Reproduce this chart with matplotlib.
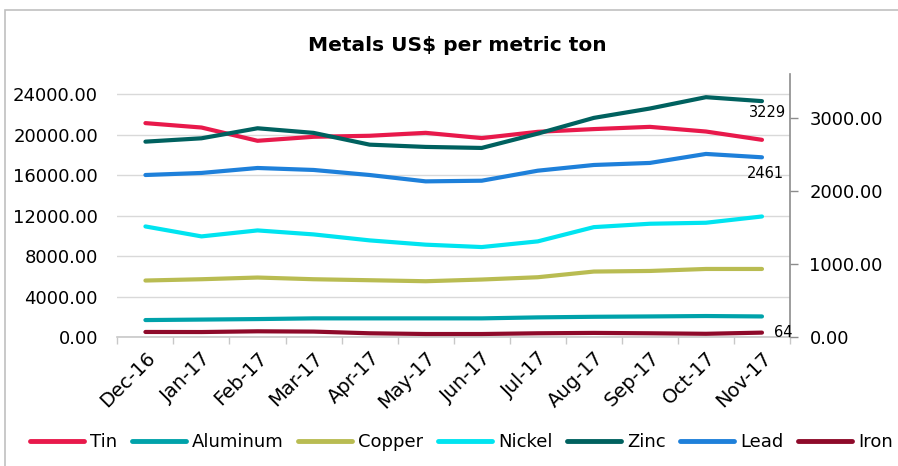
import matplotlib
matplotlib.use("Agg")
import matplotlib.pyplot as plt
import numpy as np
from matplotlib.patches import Rectangle

plt.rcParams['font.family'] = ['DejaVu Sans']

months = ["Dec-16", "Jan-17", "Feb-17", "Mar-17", "Apr-17", "May-17",
          "Jun-17", "Jul-17", "Aug-17", "Sep-17", "Oct-17", "Nov-17"]

# Left axis series
tin = [21150, 20715, 19405, 19800, 19900, 20190, 19670, 20290, 20560, 20780, 20320, 19500]
aluminum = [1702, 1750, 1800, 1869, 1869, 1869, 1869, 1967, 2026, 2060, 2100, 2060]
copper = [5606, 5734, 5902, 5734, 5636, 5537, 5705, 5931, 6492, 6551, 6748, 6748]
nickel = [10947, 9964, 10554, 10160, 9570, 9147, 8912, 9472, 10879, 11213, 11311, 11931]
# Right axis series
zinc = [2675, 2721, 2858, 2795, 2634, 2603, 2589, 2785, 3000, 3128, 3283, 3229]
lead = [2219, 2247, 2315, 2288, 2219, 2132, 2141, 2278, 2356, 2384, 2507, 2461]
iron = [73, 72, 82, 78, 55, 45, 45, 55, 60, 55, 48, 64]

left_ticks = [0, 4000, 8000, 12000, 16000, 20000, 24000]
right_ticks = [0, 1000, 2000, 3000]

colors = {
    "Tin": "#E8194B", "Aluminum": "#00A2AA", "Copper": "#B9BC52",
    "Nickel": "#00E4F0", "Zinc": "#00615F", "Lead": "#1E80DA", "Iron": "#8E0A2A",
}

W, H = 898, 466
fig = plt.figure(figsize=(W / 100, H / 100), dpi=100)
L, R, T, B = 117.4, 790, 74, 337.3
ax = fig.add_axes([L / W, 1 - B / H, (R - L) / W, (B - T) / H])
ax2 = ax.twinx()

x = np.arange(len(months))
lw = 3.0
lines = {}
for name, vals in [("Tin", tin), ("Aluminum", aluminum), ("Copper", copper), ("Nickel", nickel)]:
    lines[name], = ax.plot(x, vals, color=colors[name], lw=lw, solid_capstyle='round', label=name)
for name, vals in [("Zinc", zinc), ("Lead", lead), ("Iron", iron)]:
    lines[name], = ax2.plot(x, vals, color=colors[name], lw=lw, solid_capstyle='round', label=name)

ax.set_xlim(-0.5, len(months) - 0.5)
ax.set_ylim(0, 26000)
ax2.set_ylim(0, 3600)

ax.set_yticks(left_ticks)
ax.set_yticklabels([f"{v:.2f}" for v in left_ticks], fontsize=13)
ax2.set_yticks(right_ticks)
ax2.set_yticklabels([f"{v:.2f}" for v in right_ticks], fontsize=13)

ax.set_xticks(x)
ax.set_xticklabels(months, rotation=45, ha='right', va='top', rotation_mode='anchor', fontsize=14)
ax.set_xticks(np.arange(-0.5, len(months), 1), minor=True)
ax.tick_params(axis='x', which='major', length=0, pad=8)
ax.tick_params(axis='x', which='minor', length=5, color='#c8c8c8', width=1)
ax.tick_params(axis='y', length=0, pad=14)
ax2.tick_params(axis='y', length=6, color='#8c8c8c', width=1, direction='out', pad=8)

ax.grid(axis='y', color='#d9d9d9', lw=1)
ax.set_axisbelow(True)
for s in ['top', 'left', 'right']:
    ax.spines[s].set_visible(False)
ax.spines['bottom'].set_color('#c8c8c8')
ax.spines['bottom'].set_linewidth(1.2)
for s in ['top', 'left', 'bottom']:
    ax2.spines[s].set_visible(False)
ax2.spines['right'].set_color('#8c8c8c')
ax2.spines['right'].set_linewidth(1.2)

# data labels
ax2.annotate(f"{zinc[-1]}", (x[-1], zinc[-1]), xytext=(6, -11), textcoords='offset pixels',
             ha='center', va='center', fontsize=10.5)
ax2.annotate(f"{lead[-1]}", (x[-1], lead[-1]), xytext=(3, -16), textcoords='offset pixels',
             ha='center', va='center', fontsize=10.5)
ax2.annotate(f"{iron[-1]}", (x[-1], iron[-1]), xytext=(12, 0), textcoords='offset pixels',
             ha='left', va='center', fontsize=10.5)

fig.text(457.5 / W, 1 - 50.7 / H, "Metals US$ per metric ton", ha='center', va='baseline',
         fontsize=14.5, fontweight='bold')

order = ["Tin", "Aluminum", "Copper", "Nickel", "Zinc", "Lead", "Iron"]
leg = fig.legend([lines[n] for n in order], order, loc='center left',
                 bbox_to_anchor=(30 / W, 1 - 442 / H), ncol=7, frameon=False,
                 fontsize=13, handlelength=3.0, handletextpad=0.33, columnspacing=0.8,
                 borderpad=0, borderaxespad=0)
for h in leg.get_lines():
    h.set_linewidth(3.5)
    h.set_solid_capstyle('round')

fig.patches.append(Rectangle((5 / W, -0.1), 1.2, 1.1 - 10 / H, transform=fig.transFigure,
                             fill=False, edgecolor='#c0c0c0', lw=1.2))

fig.savefig("out.png", dpi=100)
